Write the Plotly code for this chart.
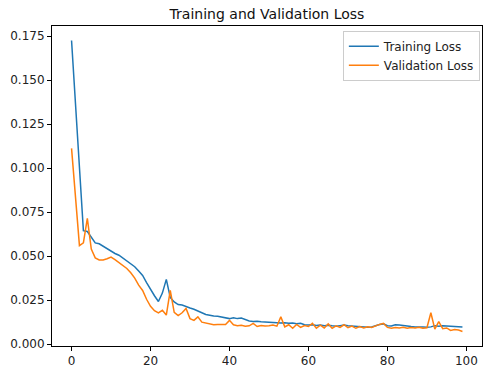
import plotly.graph_objects as go

epochs = list(range(100))

training_loss = [
    0.1725, 0.136, 0.099, 0.0645, 0.0640, 0.0605, 0.0575, 0.0570, 0.0555, 0.0540,
    0.0525, 0.0515, 0.0505, 0.0490, 0.0475, 0.0460, 0.0440, 0.0415, 0.0390, 0.0350,
    0.0310, 0.0275, 0.0242, 0.0290, 0.0368, 0.0265, 0.0240, 0.0225, 0.0222, 0.0212,
    0.0205, 0.0198, 0.0190, 0.0178, 0.0168, 0.0162, 0.0160, 0.0158, 0.0155, 0.0152,
    0.0145, 0.0150, 0.0145, 0.0148, 0.0138, 0.0132, 0.0128, 0.0130, 0.0127, 0.0125,
    0.0122, 0.0120, 0.0118, 0.0120, 0.0122, 0.0118, 0.0120, 0.0116, 0.0118, 0.0110,
    0.0108, 0.0110, 0.0106, 0.0108, 0.0105, 0.0107, 0.0104, 0.0102, 0.0105, 0.0108,
    0.0104, 0.0102, 0.0100, 0.0101, 0.0098, 0.0096, 0.0097, 0.0105, 0.0112, 0.0115,
    0.0105, 0.0103, 0.0110, 0.0108, 0.0104, 0.0102, 0.0100, 0.0098, 0.0099, 0.0097,
    0.0096, 0.0098, 0.0105, 0.0102, 0.0104, 0.0103, 0.0101, 0.0100, 0.0100, 0.0098,
]

validation_loss = [
    0.1112, 0.085, 0.0560, 0.0575, 0.0715, 0.0540, 0.0490, 0.0478, 0.0478, 0.0485,
    0.0495, 0.0480, 0.0465, 0.0445, 0.0430, 0.0405, 0.0375, 0.0335, 0.0305, 0.0255,
    0.0215, 0.0190, 0.0178, 0.0192, 0.0165, 0.0305, 0.0180, 0.0162, 0.0178, 0.0203,
    0.0145, 0.0135, 0.0155, 0.0125, 0.0120, 0.0112, 0.0110, 0.0112, 0.0110, 0.0112,
    0.0135, 0.0110, 0.0105, 0.0107, 0.0102, 0.0104, 0.0118, 0.0100, 0.0106, 0.0103,
    0.0105, 0.0108, 0.0102, 0.0155, 0.0098, 0.0110, 0.0090, 0.0112, 0.0095, 0.0106,
    0.0100, 0.0118, 0.0090, 0.0108, 0.0092, 0.0115, 0.0090, 0.0104, 0.0095, 0.0110,
    0.0093, 0.0102, 0.0090, 0.0100, 0.0092, 0.0098, 0.0095, 0.0105, 0.0112, 0.0118,
    0.0095, 0.0090, 0.0095, 0.0092, 0.0096, 0.0090, 0.0094, 0.0092, 0.0096, 0.0090,
    0.0093, 0.0178, 0.0085, 0.0128, 0.0088, 0.0092, 0.0078, 0.0083, 0.0080, 0.0072,
]

x_ticks = [0, 20, 40, 60, 80, 100]
y_ticks = [0.000, 0.025, 0.050, 0.075, 0.100, 0.125, 0.150, 0.175]
y_tick_labels = ["0.000", "0.025", "0.050", "0.075", "0.100", "0.125", "0.150", "0.175"]

all_vals = training_loss + validation_loss
ymin, ymax = min(all_vals), max(all_vals)
ypad = 0.05 * (ymax - ymin)
xpad = 0.05 * (max(epochs) - min(epochs))

font_family = "DejaVu Sans"

fig = go.Figure()
fig.add_trace(go.Scatter(x=epochs, y=training_loss, mode="lines", name="Training Loss",
                         line=dict(color="#1f77b4", width=1.5)))
fig.add_trace(go.Scatter(x=epochs, y=validation_loss, mode="lines", name="Validation Loss",
                         line=dict(color="#ff7f0e", width=1.5)))

axis_common = dict(showline=True, mirror=True, linecolor="black", linewidth=1,
                   ticks="outside", ticklen=4, tickwidth=1, tickcolor="black",
                   showgrid=False, zeroline=False,
                   tickfont=dict(family=font_family, size=12, color="#222222"))

fig.update_layout(
    width=490, height=376,
    margin=dict(l=52, r=8, t=26, b=30),
    paper_bgcolor="white", plot_bgcolor="white",
    font=dict(family=font_family, size=12, color="#222222"),
    title=dict(text="Training and Validation Loss", x=(52 + 215) / 490, xanchor="center",
               y=1 - 14 / 376, yanchor="middle",
               font=dict(family=font_family, size=14, color="#111111")),
    xaxis=dict(range=[min(epochs) - xpad, max(epochs) + xpad], tickvals=x_ticks, **axis_common),
    yaxis=dict(range=[ymin - ypad, ymax + ypad], tickvals=y_ticks, ticktext=y_tick_labels,
               **axis_common),
    legend=dict(x=0.995, y=0.985, xanchor="right", yanchor="top",
                bgcolor="rgba(255,255,255,0.8)", bordercolor="#cccccc", borderwidth=1,
                font=dict(family=font_family, size=12, color="#222222"),
                itemwidth=30, tracegroupgap=0),
    showlegend=True,
)

fig.write_html("out.html",
               config={"displayModeBar": False},
               post_script="document.body.style.margin='0';document.body.style.overflow='hidden';")
